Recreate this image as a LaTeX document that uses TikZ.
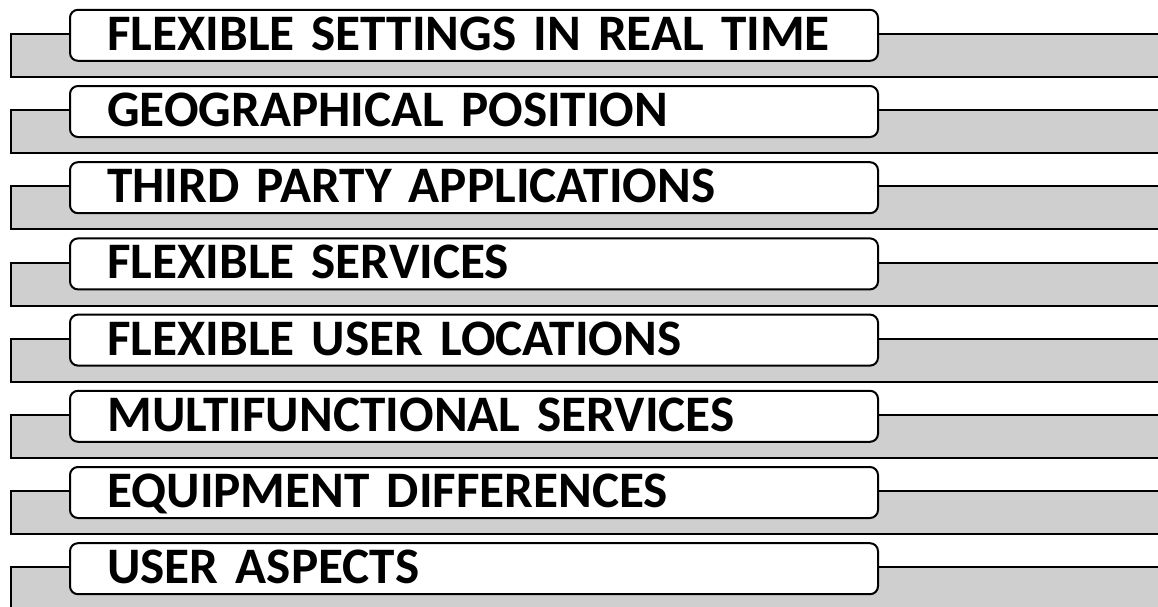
\documentclass[tikz,border=0pt]{standalone}
\usepackage{fontspec}
\setmainfont{Carlito}
\usetikzlibrary{positioning}

\begin{document}
\begin{tikzpicture}[x=0.75pt, y=-0.75pt,
    strip/.style={draw=black, fill=black!19, line width=1.5pt},
    itembox/.style={draw=black, fill=white, rounded corners=6pt, line width=1.5pt,
      anchor=west, minimum height=38.25pt, text width=550pt, inner xsep=28pt,
      text height=24.75pt, text depth=2.25pt, align=left,
      font=\fontsize{38.4}{40}\selectfont\bfseries}]
  \useasboundingbox (0,0) rectangle (1158,607);
  \clip (0,0) rectangle (1158,607);
  \foreach \txt [count=\i from 0] in {FLEXIBLE SETTINGS IN REAL TIME, GEOGRAPHICAL POSITION,
      THIRD PARTY APPLICATIONS, FLEXIBLE SERVICES, FLEXIBLE USER LOCATIONS,
      MULTIFUNCTIONAL SERVICES, EQUIPMENT DIFFERENCES, USER ASPECTS}{
    \draw [strip] (11, 34+\i*76.2) rectangle (1190, 77+\i*76.2);
    \node [itembox] (item\i) at (69, 35.3+\i*76.2) {\txt};
  }
\end{tikzpicture}
\end{document}
